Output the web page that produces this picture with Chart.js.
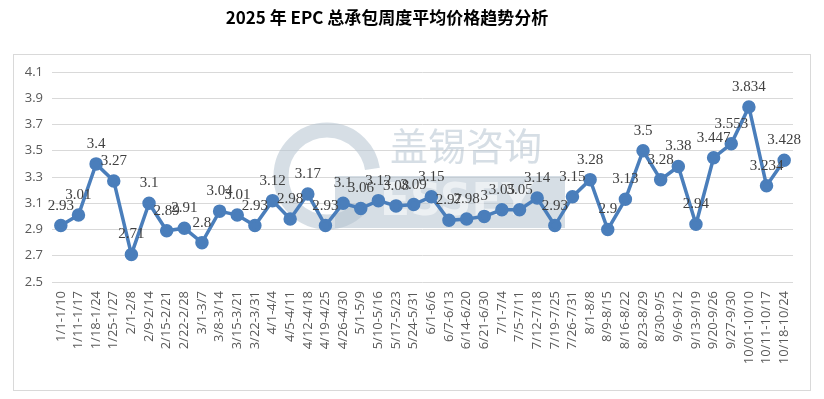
<!DOCTYPE html>
<html>
<head>
<meta charset="utf-8">
<script src="https://cdn.jsdelivr.net/npm/chart.js@4"></script>
<style>
  html, body { margin: 0; padding: 0; background: #fff; }
  #wrap { width: 824px; height: 399px; }
</style>
</head>
<body>
<div id="wrap"><canvas id="priceChart" width="824" height="399"></canvas></div>
<script>
// Chart data
const weeks = [
    '1/1-1/10', '1/11-1/17', '1/18-1/24', '1/25-1/27', '2/1-2/8', '2/9-2/14',
    '2/15-2/21', '2/22-2/28', '3/1-3/7', '3/8-3/14', '3/15-3/21', '3/22-3/31',
    '4/1-4/4', '4/5-4/11', '4/12-4/18', '4/19-4/25', '4/26-4/30', '5/1-5/9',
    '5/10-5/16', '5/17-5/23', '5/24-5/31', '6/1-6/6', '6/7-6/13', '6/14-6/20',
    '6/21-6/30', '7/1-7/4', '7/5-7/11', '7/12-7/18', '7/19-7/25', '7/26-7/31',
    '8/1-8/8', '8/9-8/15', '8/16-8/22', '8/23-8/29', '8/30-9/5', '9/6-9/12',
    '9/13-9/19', '9/20-9/26', '9/27-9/30', '10/01-10/10', '10/11-10/17', '10/18-10/24'
];
const avgPrice = [
    2.93, 3.01, 3.4, 3.27, 2.71, 3.1,
    2.89, 2.91, 2.8, 3.04, 3.01, 2.93,
    3.12, 2.98, 3.17, 2.93, 3.1, 3.06,
    3.12, 3.08, 3.09, 3.15, 2.97, 2.98,
    3, 3.05, 3.05, 3.14, 2.93, 3.15,
    3.28, 2.9, 3.13, 3.5, 3.28, 3.38,
    2.94, 3.447, 3.553, 3.834, 3.234, 3.428
];
const titleText = '2025 年 EPC 总承包周度平均价格趋势分析';
const yMin = 2.5;
const yMax = 4.1;
const yStep = 0.2;

// Frame, title and watermark
const decorPlugin = {
    id: 'decor',
    beforeDraw(chart) {
        const ctx = chart.ctx;
        ctx.save();
        ctx.fillStyle = '#ffffff';
        ctx.fillRect(0, 0, chart.width, chart.height);
        ctx.strokeStyle = '#d9d9d9';
        ctx.lineWidth = 1;
        ctx.strokeRect(13.5, 54.5, 797, 336);
        ctx.fillStyle = '#000000';
        ctx.font = 'bold 17px "Noto Sans CJK SC", "Noto Sans", sans-serif';
        ctx.textAlign = 'center';
        ctx.textBaseline = 'middle';
        ctx.fillText(titleText, 387, 18);
        ctx.restore();
    },
    beforeDatasetsDraw(chart) {
        // faint company watermark
        const ctx = chart.ctx;
        ctx.save();
        ctx.globalAlpha = 0.55;
        ctx.strokeStyle = '#b4c2d0';
        ctx.lineWidth = 15;
        ctx.beginPath();
        ctx.arc(327, 176, 46, 0.25 * Math.PI, 1.95 * Math.PI);
        ctx.stroke();
        ctx.fillStyle = '#b4c2d0';
        ctx.fillRect(335, 176, 230, 52);
        ctx.fillStyle = '#ffffff';
        ctx.font = 'bold 44px "DejaVu Sans", sans-serif';
        ctx.textBaseline = 'middle';
        ctx.textAlign = 'left';
        ctx.fillText('ESSEY', 380, 204);
        ctx.fillStyle = '#b4c2d0';
        ctx.font = '38px "Noto Sans CJK SC", sans-serif';
        ctx.fillText('盖锡咨询', 390, 146);
        ctx.restore();
    },
    afterDatasetsDraw(chart) {
        // value labels above each point
        const ctx = chart.ctx;
        const meta = chart.getDatasetMeta(0);
        ctx.save();
        ctx.fillStyle = '#404040';
        ctx.font = '15px "Liberation Serif", "DejaVu Serif", serif';
        ctx.textAlign = 'center';
        ctx.textBaseline = 'middle';
        meta.data.forEach((pt, i) => {
            ctx.fillText(String(avgPrice[i]), pt.x, pt.y - 20);
        });
        ctx.restore();
    }
};

const ctx = document.getElementById('priceChart').getContext('2d');
new Chart(ctx, {
    type: 'line',
    data: {
        labels: weeks,
        datasets: [{
            data: avgPrice,
            borderColor: '#4a7ebb',
            backgroundColor: '#4a7ebb',
            borderWidth: 3.5,
            pointRadius: 5,
            pointHoverRadius: 5,
            pointBackgroundColor: '#4a7ebb',
            pointBorderColor: '#4a7ebb',
            tension: 0
        }]
    },
    options: {
        responsive: false,
        animation: false,
        events: [],
        layout: { padding: { left: 0, right: 31, top: 72, bottom: 0 } },
        plugins: {
            legend: { display: false },
            title: { display: false },
            tooltip: { enabled: false }
        },
        scales: {
            x: {
                offset: true,
                grid: { display: false, drawTicks: false },
                border: { display: false },
                ticks: {
                    autoSkip: false,
                    minRotation: 90,
                    maxRotation: 90,
                    padding: 9,
                    color: '#595959',
                    font: { family: '"Open Sans", sans-serif', size: 13 }
                },
                afterFit(scale) { scale.height = 117; }
            },
            y: {
                min: yMin,
                max: yMax,
                grid: { color: '#d9d9d9', drawTicks: false, lineWidth: 1 },
                border: { display: false },
                ticks: {
                    stepSize: yStep,
                    padding: 9,
                    color: '#595959',
                    font: { family: '"Open Sans", sans-serif', size: 13 },
                    callback: (v) => Number(v).toFixed(1)
                },
                afterFit(scale) { scale.width = 52; }
            }
        }
    },
    plugins: [decorPlugin]
});
</script>
</body>
</html>
